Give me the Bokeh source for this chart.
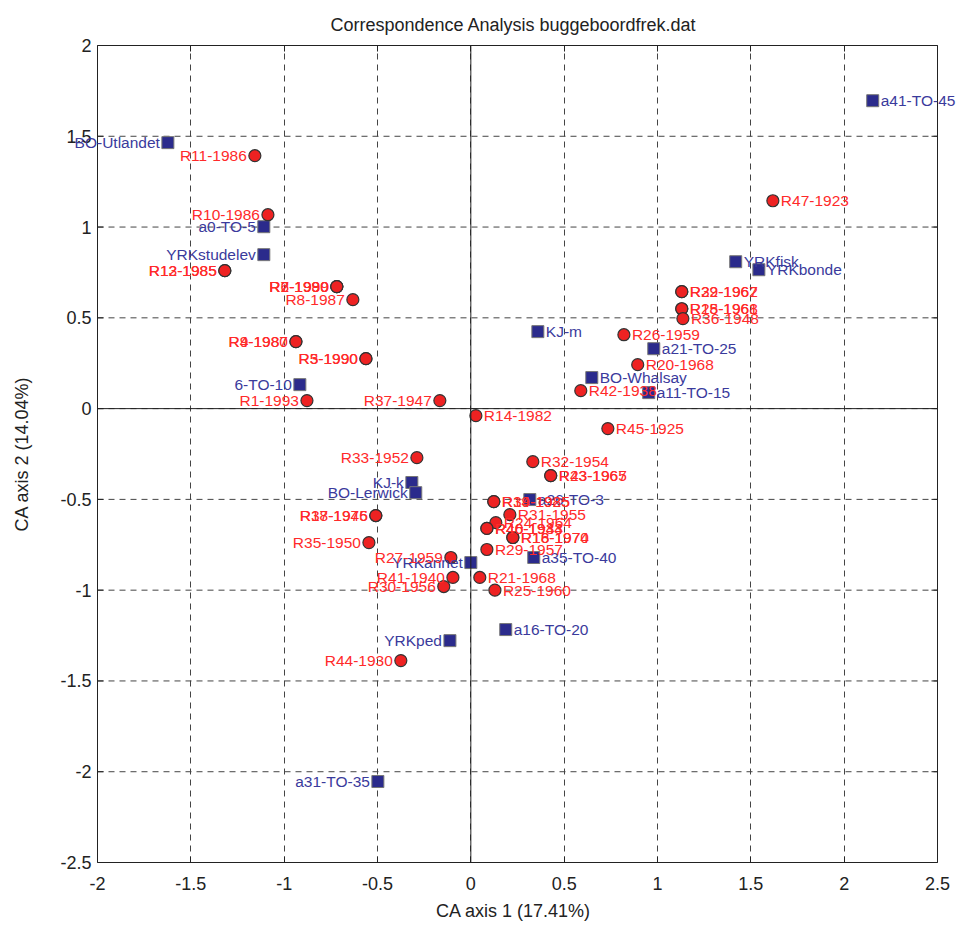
import math
from bokeh.plotting import figure
from bokeh.models import (ColumnDataSource, LinearAxis, SingleIntervalTicker, Span, Range1d,
                          LabelSet, CustomJSTickFormatter)
from bokeh.embed import file_html
from bokeh.resources import INLINE
from bokeh.core.properties import value

# ---- data: row points (red circles) ----
row_labels = ["R11-1986", "R10-1986", "R12-1985", "R13-1985", "R2-1990", "R6-1990", "R7-1989",
              "R8-1987", "R4-1987", "R9-1980", "R3-1990", "R5-1990", "R1-1993", "R37-1947",
              "R33-1952", "R17-1976", "R38-1945", "R35-1950", "R27-1959", "R41-1940", "R30-1956",
              "R44-1930",
              "R47-1923", "R22-1962", "R39-1967", "R28-1961", "R15-1968", "R36-1948", "R26-1959",
              "R20-1968", "R42-1938", "R45-1925", "R14-1982", "R32-1954", "R23-1965", "R43-1967",
              "R34-1925", "R19-1985", "R31-1955", "R24-1964", "R40-1943", "R46-1934", "R16-1970",
              "R18-1974", "R29-1957", "R21-1968", "R25-1960"]
row_x = [-1.157, -1.087, -1.318, -1.318, -0.718, -0.718, -0.718,
         -0.632, -0.937, -0.937, -0.562, -0.562, -0.878, -0.166,
         -0.289, -0.509, -0.509, -0.546, -0.107, -0.096, -0.145,
         -0.375,
         1.618, 1.130, 1.130, 1.130, 1.130, 1.136, 0.820,
         0.894, 0.589, 0.734, 0.027, 0.332, 0.428, 0.428,
         0.123, 0.123, 0.209, 0.134, 0.086, 0.086, 0.225,
         0.225, 0.086, 0.048, 0.129]
row_y = [1.393, 1.068, 0.760, 0.760, 0.672, 0.672, 0.672,
         0.600, 0.369, 0.369, 0.275, 0.275, 0.044, 0.044,
         -0.270, -0.589, -0.589, -0.738, -0.820, -0.930, -0.980,
         -1.388,
         1.145, 0.644, 0.644, 0.550, 0.550, 0.496, 0.407,
         0.242, 0.099, -0.110, -0.039, -0.292, -0.369, -0.369,
         -0.512, -0.512, -0.584, -0.628, -0.660, -0.660, -0.710,
         -0.710, -0.776, -0.930, -1.000]
row_side = ["L"] * 22 + ["R"] * 25

# ---- data: column points (blue squares) ----
col_labels = ["BO-Utlandet", "a0-TO-5", "YRKstudelev", "6-TO-10", "KJ-k", "BO-Lerwick",
              "YRKannet", "YRKped", "a31-TO-35",
              "KJ-m", "a21-TO-25", "BO-Whalsay", "a11-TO-15", "YRKfisk", "YRKbonde",
              "a41-TO-45", "a26-TO-3", "a35-TO-40", "a16-TO-20"]
col_x = [-1.623, -1.109, -1.109, -0.916, -0.316, -0.295,
         0.000, -0.112, -0.498,
         0.359, 0.980, 0.648, 0.953, 1.419, 1.543,
         2.153, 0.316, 0.337, 0.187]
col_y = [1.465, 1.002, 0.848, 0.132, -0.407, -0.463,
         -0.848, -1.278, -2.054,
         0.424, 0.330, 0.171, 0.088, 0.809, 0.765,
         1.696, -0.501, -0.820, -1.217]
col_side = ["L"] * 9 + ["R"] * 10

x_range = (-2.0, 2.5)
y_range = (-2.5, 2.0)
tick_step = 0.5

title = "Correspondence Analysis buggeboordfrek.dat"
x_label = "CA axis 1 (17.41%)"
y_label = "CA axis 2 (14.04%)"

# ---- layout (pixels) ----
FONT = "Liberation Sans"
LFONT = "Liberation Sans"
W, H = 958, 926
BOX_L, BOX_R = 97, 937          # visible axes box, left/right edges in px
FRAME_L, FRAME_R = 70, 956      # wider drawing frame so point labels can overflow the box
BORDER_TOP, BORDER_BOTTOM = 45, 64

ppu = (BOX_R - BOX_L) / (x_range[1] - x_range[0])
x_lo = x_range[0] - (BOX_L - FRAME_L) / ppu
x_hi = x_range[1] + (FRAME_R - BOX_R) / ppu

p = figure(width=W, height=H, output_backend="svg", toolbar_location=None,
           x_range=Range1d(x_lo, x_hi), y_range=Range1d(*y_range),
           min_border_left=FRAME_L, min_border_right=W - FRAME_R,
           min_border_top=BORDER_TOP, min_border_bottom=BORDER_BOTTOM,
           x_axis_location=None, y_axis_location=None)
p.outline_line_color = None
p.background_fill_color = "white"
p.border_fill_color = "white"

AX_COL = "#222222"
n_y = int(round((y_range[1] - y_range[0]) / tick_step))
y_ticks = [y_range[0] + i * tick_step for i in range(n_y + 1)]
n_x = int(round((x_range[1] - x_range[0]) / tick_step))
x_ticks = [x_range[0] + i * tick_step for i in range(n_x + 1)]

# bottom axis
xb = LinearAxis(ticker=SingleIntervalTicker(interval=tick_step, num_minor_ticks=0), bounds=x_range)
xb.major_tick_in = 6
xb.major_tick_out = 0
xb.minor_tick_in = 0
xb.minor_tick_out = 0
xb.axis_line_color = AX_COL
xb.major_tick_line_color = AX_COL
xb.major_label_overrides = {v: f"{v:g}" for v in x_ticks}
xb.major_label_text_font = FONT
xb.major_label_text_font_size = "18px"
xb.major_label_text_color = AX_COL
xb.major_label_standoff = 14
xb.axis_label = x_label
xb.axis_label_text_font = FONT
xb.axis_label_text_font_size = "18px"
xb.axis_label_text_font_style = "normal"
xb.axis_label_text_color = AX_COL
xb.axis_label_standoff = 8
p.add_layout(xb, "below")

# top axis (ticks only)
xt = LinearAxis(ticker=SingleIntervalTicker(interval=tick_step, num_minor_ticks=0), bounds=x_range)
xt.major_tick_in = 6
xt.major_tick_out = 0
xt.minor_tick_in = 0
xt.minor_tick_out = 0
xt.axis_line_color = AX_COL
xt.major_tick_line_color = AX_COL
xt.formatter = CustomJSTickFormatter(code="return ''")
xt.major_label_standoff = 0
p.add_layout(xt, "above")

# left axis: only its labels; it sits at the frame edge, labels pulled in to the box edge
yl = LinearAxis(ticker=SingleIntervalTicker(interval=tick_step, num_minor_ticks=0))
yl.axis_line_color = None
yl.major_tick_line_color = None
yl.minor_tick_line_color = None
yl.major_tick_in = 0
yl.major_tick_out = 0
yl.minor_tick_in = 0
yl.minor_tick_out = 0
yl.major_label_overrides = {v: f"{v:g}" for v in y_ticks}
yl.major_label_text_font = FONT
yl.major_label_text_font_size = "18px"
yl.major_label_text_color = AX_COL
yl.major_label_standoff = -(BOX_L - FRAME_L) + 6
yl.axis_label = y_label
yl.axis_label_text_font = FONT
yl.axis_label_text_font_size = "18px"
yl.axis_label_text_font_style = "normal"
yl.axis_label_text_color = AX_COL
yl.axis_label_standoff = 25
p.add_layout(yl, "left")

# vertical grid
p.xgrid.ticker = SingleIntervalTicker(interval=tick_step, num_minor_ticks=0)
p.xgrid.grid_line_color = "#444444"
p.xgrid.grid_line_dash = "6 5"
p.xgrid.grid_line_width = 1
p.ygrid.visible = False

# horizontal grid limited to the box
p.segment(x0=[x_range[0]] * len(y_ticks), x1=[x_range[1]] * len(y_ticks), y0=y_ticks, y1=y_ticks,
          line_color="#444444", line_dash="6 5", line_width=1)

# zero lines
p.add_layout(Span(location=0, dimension="height", line_color=AX_COL, line_width=1))
p.segment(x0=[x_range[0]], x1=[x_range[1]], y0=[0], y1=[0], line_color=AX_COL, line_width=1)

# box edges and inward ticks on left / right
p.add_layout(Span(location=x_range[0], dimension="height", line_color=AX_COL, line_width=1))
p.add_layout(Span(location=x_range[1], dimension="height", line_color=AX_COL, line_width=1))
p.ray(x=[x_range[0]] * len(y_ticks), y=y_ticks, length=6, length_units="screen", angle=0,
      line_color=AX_COL, line_width=1)
p.ray(x=[x_range[1]] * len(y_ticks), y=y_ticks, length=6, length_units="screen", angle=math.pi,
      line_color=AX_COL, line_width=1)

p.title.text = title
p.title.text_font = FONT
p.title.text_font_size = "18px"
p.title.text_font_style = "normal"
p.title.text_color = AX_COL
p.title.align = "center"
p.title.standoff = 21

RED_FILL = "#ee2222"
RED_TEXT = "#ff2a2a"
BLUE_FILL = "#2b2b8c"
BLUE_TEXT = "#3a3a9c"

def split(labels, xs, ys, sides, side):
    idx = [i for i, s in enumerate(sides) if s == side]
    return ColumnDataSource(dict(x=[xs[i] for i in idx], y=[ys[i] for i in idx],
                                 t=[labels[i] for i in idx]))

# markers
p.scatter(col_x, col_y, marker="square", size=12, fill_color=BLUE_FILL, line_color="#777777", line_width=1)
p.scatter(row_x, row_y, marker="circle", size=12, fill_color=RED_FILL, line_color="#333333", line_width=1.2)

for labels, xs, ys, sides, color in ((col_labels, col_x, col_y, col_side, BLUE_TEXT),
                                     (row_labels, row_x, row_y, row_side, RED_TEXT)):
    for side, align, off in (("L", "right", -8), ("R", "left", 8)):
        src = split(labels, xs, ys, sides, side)
        p.add_layout(LabelSet(x="x", y="y", text="t", source=src, text_align=align,
                              text_baseline="middle", x_offset=off,
                              text_font=value(LFONT), text_font_size="15.5px", text_color=color))

open("out.html", "w").write(file_html(p, INLINE))
